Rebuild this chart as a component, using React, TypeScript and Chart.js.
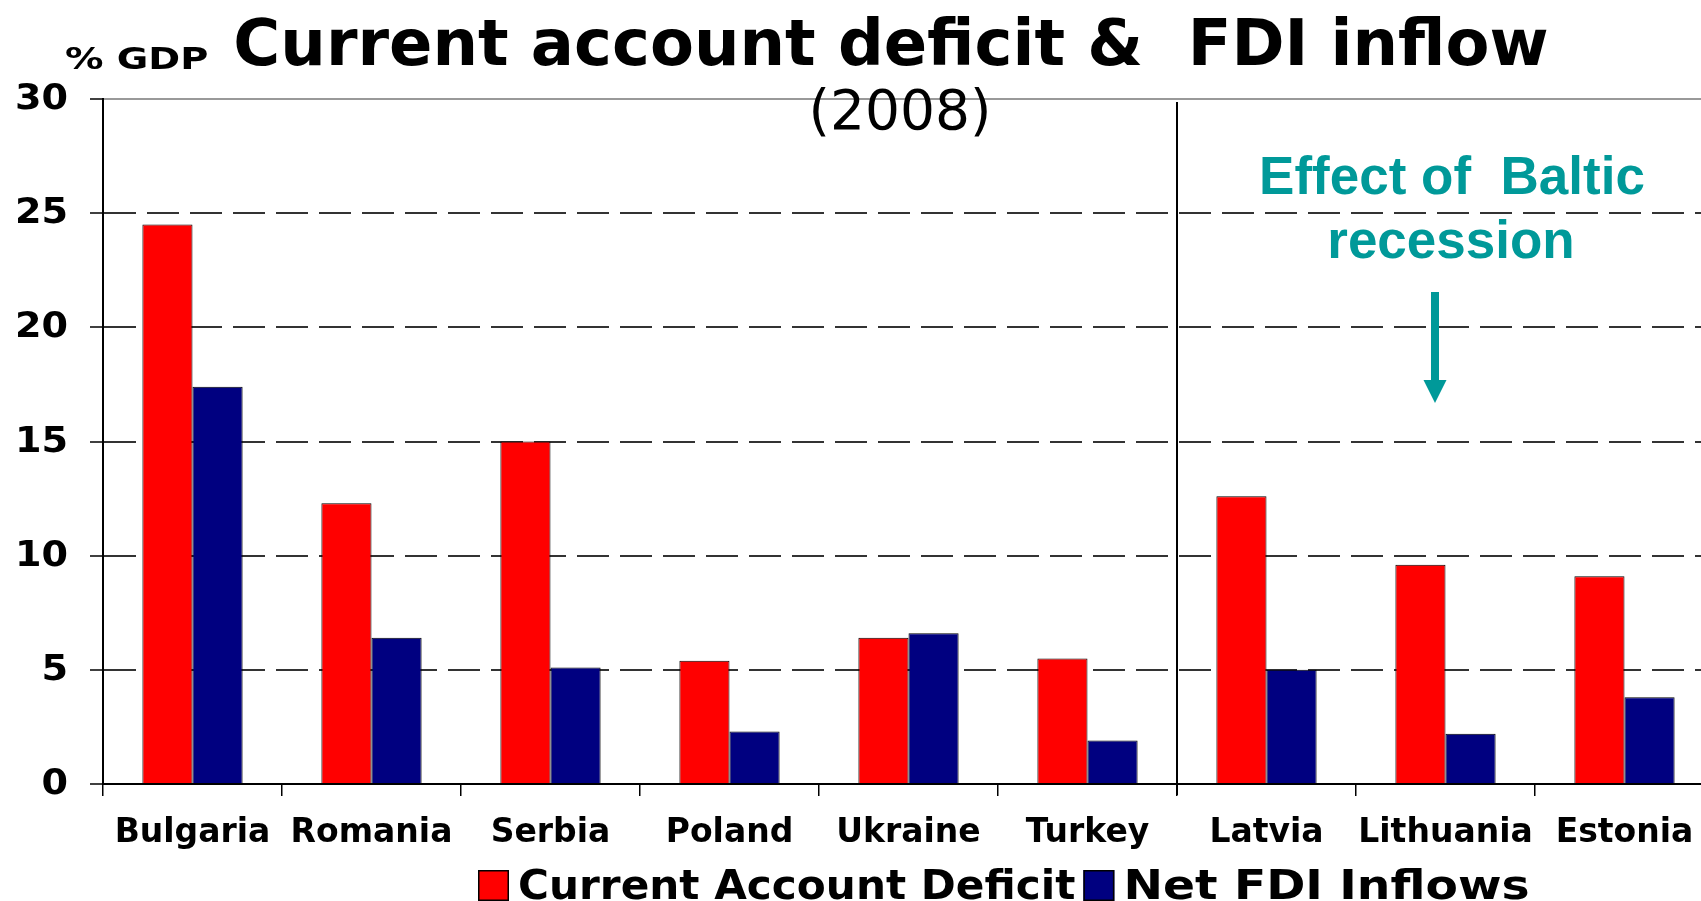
import React, { useEffect, useRef } from "react";
import { Chart, registerables } from "chart.js";

Chart.register(...registerables);

const categories = ["Bulgaria", "Romania", "Serbia", "Poland", "Ukraine", "Turkey", "Latvia", "Lithuania", "Estonia"];
const currentAccountDeficit = [24.5, 12.3, 15.0, 5.4, 6.4, 5.5, 12.6, 9.6, 9.1];
const netFdiInflows = [17.4, 6.4, 5.1, 2.3, 6.6, 1.9, 5.0, 2.2, 3.8];
const seriesLabels = ["Current Account Deficit", "Net FDI Inflows"];
const seriesColors = ["#FF0000", "#000080"];
const yMin = 0;
const yMax = 30;
const yStep = 5;
const titleText = "Current account deficit &  FDI inflow";
const subtitleText = "(2008)";
const unitText = "% GDP";
const noteLines = ["Effect of  Baltic", "recession"];
const dividerAfterIndex = 5;

const TEAL = "#009999";
const SANS = "'DejaVu Sans'";

function drawStretched(
  ctx: CanvasRenderingContext2D,
  text: string,
  x: number,
  y: number,
  font: string,
  align: "left" | "right" | "center",
  baseline: CanvasTextBaseline,
  sx: number,
  color: string
): number {
  ctx.save();
  ctx.font = font;
  ctx.fillStyle = color;
  ctx.textBaseline = baseline;
  ctx.textAlign = "left";
  const w = ctx.measureText(text).width * sx;
  const left = align === "right" ? x - w : align === "center" ? x - w / 2 : x;
  ctx.translate(left, y);
  ctx.scale(sx, 1);
  ctx.fillText(text, 0, 0);
  ctx.restore();
  return w;
}

const decorPlugin = {
  id: "decor",
  afterDatasetsDraw(chart: any) {
    const ctx: CanvasRenderingContext2D = chart.ctx;
    const xs = chart.scales.x;
    const area = chart.chartArea;
    const xd = (xs.getPixelForValue(dividerAfterIndex) + xs.getPixelForValue(dividerAfterIndex + 1)) / 2;
    ctx.save();
    ctx.strokeStyle = "#000";
    ctx.lineWidth = 2;
    ctx.beginPath();
    ctx.moveTo(xd, area.top + 3);
    ctx.lineTo(xd, area.bottom + 11);
    ctx.stroke();
    ctx.restore();
  },
  afterDraw(chart: any) {
    const ctx: CanvasRenderingContext2D = chart.ctx;
    const ys = chart.scales.y;
    ys.ticks.forEach((t: any) => {
      const y = ys.getPixelForValue(t.value);
      drawStretched(ctx, String(t.value), 68, y + 1, `bold 35px ${SANS}`, "right", "middle", 1.09, "#000");
    });
    drawStretched(ctx, unitText, 65, 69, `bold 30px ${SANS}`, "left", "alphabetic", 1.28, "#000");
    drawStretched(ctx, titleText, 891, 65, `bold 64px ${SANS}`, "center", "alphabetic", 1, "#000");
    drawStretched(ctx, subtitleText, 900, 129, `55px ${SANS}`, "center", "alphabetic", 1, "#000");
    drawStretched(ctx, noteLines[0], 1452, 194, `bold 53px 'Liberation Sans'`, "center", "alphabetic", 1, TEAL);
    drawStretched(ctx, noteLines[1], 1451, 258, `bold 53px 'Liberation Sans'`, "center", "alphabetic", 1, TEAL);
    ctx.save();
    ctx.fillStyle = TEAL;
    ctx.fillRect(1431, 292, 8, 92);
    ctx.beginPath();
    ctx.moveTo(1423.5, 380);
    ctx.lineTo(1446.5, 380);
    ctx.lineTo(1435, 403);
    ctx.closePath();
    ctx.fill();
    ctx.restore();
    // legend
    const stretch = [1.055, 1.18];
    let x = 478;
    const boxY = 870;
    const box = 31;
    chart.data.datasets.forEach((ds: any, i: number) => {
      ctx.save();
      ctx.fillStyle = ds.backgroundColor;
      ctx.fillRect(x, boxY, box, box);
      ctx.strokeStyle = "#000";
      ctx.lineWidth = 1.5;
      ctx.strokeRect(x + 0.75, boxY + 0.75, box - 1.5, box - 1.5);
      ctx.restore();
      x += box + 9;
      const w = drawStretched(ctx, ds.label, x, 899, `bold 40px ${SANS}`, "left", "alphabetic", stretch[i], "#000");
      x += w + 8;
    });
  },
};

export default function App() {
  const ref = useRef<HTMLCanvasElement | null>(null);

  useEffect(() => {
    if (!ref.current) return;
    const chart = new Chart(ref.current, {
      type: "bar",
      data: {
        labels: categories,
        datasets: [
          {
            label: seriesLabels[0],
            data: currentAccountDeficit,
            backgroundColor: seriesColors[0],
            borderColor: "#000",
            borderWidth: 1,
            categoryPercentage: 0.56,
            barPercentage: 1.0,
          },
          {
            label: seriesLabels[1],
            data: netFdiInflows,
            backgroundColor: seriesColors[1],
            borderColor: "#000",
            borderWidth: 1,
            categoryPercentage: 0.56,
            barPercentage: 1.0,
          },
        ],
      },
      options: {
        animation: false,
        responsive: true,
        maintainAspectRatio: false,
        layout: { padding: { top: 99, right: 2, left: 0, bottom: 0 } },
        plugins: {
          legend: { display: false },
          title: { display: false },
          tooltip: { enabled: false },
        },
        scales: {
          x: {
            offset: true,
            grid: {
              offset: true,
              drawOnChartArea: false,
              drawTicks: true,
              tickLength: 12,
              color: "#000",
              lineWidth: 1.5,
            },
            border: { display: true, color: "#000", width: 2 },
            ticks: {
              color: "#000",
              font: { family: SANS, weight: "bold", size: 33 },
              padding: 18,
              maxRotation: 0,
              autoSkip: false,
            },
            afterFit: (s: any) => {
              s.height = 117;
            },
          },
          y: {
            min: yMin,
            max: yMax,
            ticks: { stepSize: yStep, display: false },
            grid: {
              color: (c: any) => {
                const v = c.tick ? c.tick.value : -1;
                if (v === yMax) return "#999999";
                if (v === yMin) return "#000000";
                return "#333333";
              },
              lineWidth: 2,
              drawTicks: true,
              tickLength: 13,
              tickColor: "#000",
              tickWidth: 1.5,
            },
            border: {
              display: true,
              color: "#000",
              width: 2,
              dash: (c: any) => {
                const v = c.tick ? c.tick.value : -1;
                return v > yMin && v < yMax ? [32, 11] : [];
              },
            },
            afterFit: (s: any) => {
              s.width = 103;
            },
          },
        },
      },
      plugins: [decorPlugin],
    } as any);
    return () => chart.destroy();
  }, []);

  return (
    <div
      style={{
        position: "fixed",
        left: 0,
        top: 0,
        width: "1701px",
        height: "901px",
        overflow: "hidden",
        background: "#fff",
      }}
    >
      <div style={{ position: "relative", width: "1716px", height: "901px" }}>
        <canvas ref={ref} />
      </div>
    </div>
  );
}
